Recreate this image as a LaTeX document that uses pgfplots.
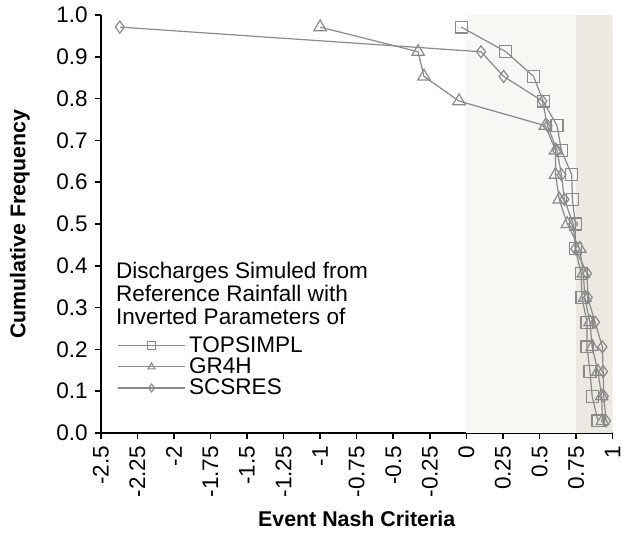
\documentclass[border=0pt]{standalone}
\usepackage{pgfplots}
\pgfplotsset{compat=1.18}
\usepackage{fontspec}
\setmainfont{Liberation Sans}
\definecolor{bandlight}{HTML}{F8F7F3}
\definecolor{banddark}{HTML}{ECE9E2}
\definecolor{serie}{HTML}{8A8A8A}

\begin{document}
\begin{tikzpicture}
\begin{axis}[
  scale only axis, width=256.5bp, height=209.5bp,
  xmin=-2.5, xmax=1, ymin=0, ymax=1,
  axis x line=bottom, axis y line=left,
  axis line style={-, line width=1bp, black},
  tick align=outside, major tick length=3bp,
  tick style={line width=0.8bp, black},
  xtick={-2.5,-2.25,-2,-1.75,-1.5,-1.25,-1,-0.75,-0.5,-0.25,0,0.25,0.5,0.75,1},
  xticklabels={-2.5,-2.25,-2,-1.75,-1.5,-1.25,-1,-0.75,-0.5,-0.25,0,0.25,0.5,0.75,1},
  ytick={0,0.1,...,1.0},
  yticklabels={0.0,0.1,0.2,0.3,0.4,0.5,0.6,0.7,0.8,0.9,1.0},
  x tick label style={rotate=90, anchor=east, font=\fontsize{11.3bp}{13bp}\selectfont},
  y tick label style={font=\fontsize{11.3bp}{13bp}\selectfont},
  xlabel={Event Nash Criteria},
  ylabel={Cumulative Frequency},
  label style={font=\bfseries\fontsize{10.7bp}{12bp}\selectfont},
  xlabel style={at={(axis description cs:0.5,-0.205)}, anchor=center},
  ylabel style={at={(axis description cs:-0.158,0.5)}, anchor=center, rotate=0},
  legend cell align=left,
  legend style={at={(axis description cs:0.031,0.235)}, anchor=north west,
    draw=none, fill=none, inner sep=0pt, row sep=0pt,
    font=\fontsize{11.3bp}{11.5bp}\selectfont,
    nodes={inner ysep=0.6bp, inner xsep=1.5bp}},
  legend image code/.code={%
    \draw[mark repeat=2, mark phase=2, mark size=2bp] plot coordinates {(0bp,0bp) (17bp,0bp) (34bp,0bp)};},
  every axis plot/.append style={line width=0.6bp},
]
% shaded bands
\addplot[draw=none, fill=bandlight, forget plot] coordinates {(0,0) (0.75,0) (0.75,1) (0,1)} --cycle;
\addplot[draw=none, fill=banddark, forget plot] coordinates {(0.75,0) (1,0) (1,1) (0.75,1)} --cycle;

\addplot[serie, mark=square, mark size=3bp, mark options={solid, fill=none}] coordinates {
(-0.035,0.971) (0.27,0.912) (0.46,0.853) (0.525,0.794) (0.62,0.735) (0.65,0.676)
(0.72,0.618) (0.725,0.559) (0.745,0.500) (0.745,0.441) (0.785,0.382) (0.79,0.324)
(0.825,0.265) (0.825,0.206) (0.845,0.147) (0.86,0.088) (0.90,0.029)};
\addlegendentry{TOPSIMPL}

\addplot[serie, mark=triangle, mark size=3.6bp, mark options={solid, fill=none}] coordinates {
(-1.0,0.971) (-0.33,0.912) (-0.29,0.853) (-0.05,0.794) (0.54,0.735) (0.61,0.676)
(0.61,0.618) (0.635,0.559) (0.69,0.500) (0.775,0.441) (0.80,0.382) (0.81,0.324)
(0.845,0.265) (0.86,0.206) (0.90,0.147) (0.925,0.088) (0.93,0.029)};
\addlegendentry{GR4H}

\addplot[serie, mark=diamond, mark size=3bp, mark options={solid, fill=none}] coordinates {
(-2.37,0.971) (0.10,0.912) (0.255,0.853) (0.52,0.794) (0.555,0.735) (0.62,0.676)
(0.65,0.618) (0.67,0.559) (0.73,0.500) (0.745,0.441) (0.825,0.382) (0.83,0.324)
(0.88,0.265) (0.93,0.206) (0.935,0.147) (0.94,0.088) (0.955,0.029)};
\addlegendentry{SCSRES}

\node[anchor=north west, align=left, inner sep=0pt,
  font=\fontsize{11.3bp}{11.6bp}\selectfont]
  at (axis description cs:0.029,0.41)
  {Discharges Simuled from\\Reference Rainfall with\\Inverted Parameters of};
\end{axis}
\path (current axis.south west) ++(-50.5bp,-57bp) rectangle ++(313.5bp,274bp);
\end{tikzpicture}
\end{document}
